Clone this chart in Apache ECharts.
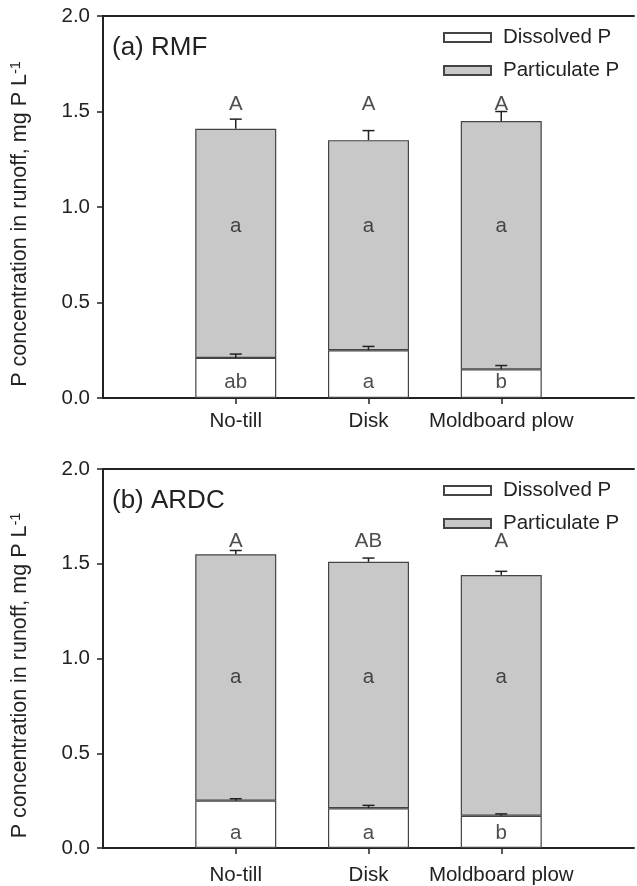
<!DOCTYPE html>
<html><head><meta charset="utf-8">
<script src="https://cdn.jsdelivr.net/npm/echarts@6/dist/echarts.min.js"></script>
<style>html,body{margin:0;padding:0;background:#fff}#c{width:637px;height:886px}</style>
</head><body><div id="c"></div>
<script>
// ---------- data ----------
const categories = ['No-till', 'Disk', 'Moldboard plow'];
const yTickLabels = ['0.0', '0.5', '1.0', '1.5', '2.0'];
const panelTitles = ['(a) RMF', '(b) ARDC'];
const legendNames = ['Dissolved P', 'Particulate P'];

// Panel (a) RMF
const dissolvedA = [0.21, 0.25, 0.15];
const dissolvedErrA = [0.02, 0.02, 0.02];
const particulateA = [1.20, 1.10, 1.30];
const totalErrA = [0.05, 0.05, 0.05];
const upperLettersA = ['A', 'A', 'A'];
const middleLettersA = ['a', 'a', 'a'];
const lowerLettersA = ['ab', 'a', 'b'];

// Panel (b) ARDC
const dissolvedB = [0.25, 0.21, 0.17];
const dissolvedErrB = [0.01, 0.015, 0.01];
const particulateB = [1.30, 1.30, 1.27];
const totalErrB = [0.02, 0.02, 0.02];
const upperLettersB = ['A', 'AB', 'A'];
const middleLettersB = ['a', 'a', 'a'];
const lowerLettersB = ['a', 'a', 'b'];

// ---------- layout ----------
const FONT = "'Liberation Sans', Arial, Helvetica, sans-serif";
const FS = 20.5;
const TXT = '#222';
const panels = [
  { top: 16, height: 382, xMargin: 13, dis: dissolvedA, disErr: dissolvedErrA, par: particulateA, totErr: totalErrA,
    letters: [upperLettersA, middleLettersA, lowerLettersA], letterY: [1.54, 0.90, 0.08] },
  { top: 469, height: 381, xMargin: 17, dis: dissolvedB, disErr: dissolvedErrB, par: particulateB, totErr: totalErrB,
    letters: [upperLettersB, middleLettersB, lowerLettersB], letterY: [1.62, 0.90, 0.075] }
];
const axisCats = [''].concat(categories, ['']);
const pad = arr => ['-'].concat(arr, ['-']);

const grids = [], xAxes = [], yAxes = [], series = [], legends = [], titles = [];

function errRender(params, api) {
  const x = api.value(0);
  const b = api.coord([x, api.value(1)]);
  const t = api.coord([x, api.value(2)]);
  const hw = 6;
  return { type: 'group', children: [
    { type: 'line', shape: { x1: b[0], y1: b[1], x2: t[0], y2: t[1] }, style: { stroke: TXT, lineWidth: 1.5 } },
    { type: 'line', shape: { x1: b[0] - hw, y1: t[1], x2: b[0] + hw, y2: t[1] }, style: { stroke: TXT, lineWidth: 1.5 } }
  ]};
}

panels.forEach((p, i) => {
  grids.push({ left: 98, top: p.top, height: p.height, width: 544 });
  xAxes.push({
    type: 'category', gridIndex: i, data: axisCats, boundaryGap: false, position: 'bottom',
    axisLine: { lineStyle: { color: TXT, width: 2 } },
    axisTick: { show: true, length: 6, lineStyle: { color: TXT, width: 1.5 }, interval: (idx, v) => v !== '' },
    axisLabel: { interval: 0, color: TXT, fontSize: FS, fontFamily: FONT, margin: p.xMargin },
    splitLine: { show: false }
  });
  xAxes.push({
    type: 'category', gridIndex: i, data: axisCats, boundaryGap: false, position: 'top',
    axisLine: { lineStyle: { color: TXT, width: 2 } },
    axisTick: { show: false }, axisLabel: { show: false }, splitLine: { show: false }
  });
  yAxes.push({
    type: 'value', gridIndex: i, min: 0, max: 2, interval: 0.5,
    axisLine: { show: true, lineStyle: { color: TXT, width: 2 } },
    axisTick: { show: true, length: 6, lineStyle: { color: TXT, width: 1.5 } },
    axisLabel: { color: TXT, fontSize: FS, fontFamily: FONT, margin: 13,
      formatter: (v) => yTickLabels[Math.round(v / 0.5)] },
    splitLine: { show: false },
    name: 'P concentration in runoff, mg P L{sup|-1}',
    nameLocation: 'middle', nameGap: 70,
    nameTextStyle: { color: TXT, fontSize: 21.5, fontFamily: FONT, padding: [0, 34, 0, 0],
      rich: { sup: { fontSize: 14.5, fontFamily: FONT, color: TXT, padding: [0, 0, 10, 0] } } }
  });
  const xi = i * 2;
  series.push({
    name: legendNames[0], type: 'bar', stack: 's' + i, xAxisIndex: xi, yAxisIndex: i,
    data: pad(p.dis), barWidth: 81,
    itemStyle: { color: '#ffffff', borderColor: '#444', borderWidth: 1.2 }
  });
  series.push({
    name: legendNames[1], type: 'bar', stack: 's' + i, xAxisIndex: xi, yAxisIndex: i,
    data: pad(p.par), barWidth: 81,
    itemStyle: { color: '#c8c8c8', borderColor: '#444', borderWidth: 1.2 }
  });
  const errData = [];
  p.dis.forEach((d, k) => {
    errData.push([k + 1, d, d + p.disErr[k]]);
    const tot = d + p.par[k];
    errData.push([k + 1, tot, tot + p.totErr[k]]);
  });
  series.push({
    type: 'custom', xAxisIndex: xi, yAxisIndex: i, renderItem: errRender, data: errData, z: 5,
    encode: { x: 0, y: [1, 2] }
  });
  p.letters.forEach((arr, li) => {
    series.push({
      type: 'scatter', xAxisIndex: xi, yAxisIndex: i, symbolSize: 1, z: 6,
      itemStyle: { color: 'rgba(0,0,0,0)' },
      data: arr.map((s, k) => [k + 1, p.letterY[li]]),
      label: { show: true, position: 'inside', color: TXT, fontSize: FS, fontFamily: FONT,
        formatter: (prm) => arr[prm.dataIndex] }
    });
  });
  legends.push({
    data: legendNames, orient: 'vertical', left: 443, top: p.top + 11, itemGap: 12, padding: 0,
    icon: 'rect', itemWidth: 47, itemHeight: 9, selectedMode: false,
    textStyle: { color: TXT, fontSize: FS, fontFamily: FONT, padding: [0, 0, 0, 7] }
  });
  titles.push({
    text: panelTitles[i], left: 112, top: p.top + 19, padding: 0,
    textStyle: { color: TXT, fontSize: 26, fontWeight: 'normal', fontFamily: FONT }
  });
});

const chart = echarts.init(document.getElementById('c'), null, { renderer: 'canvas' });
chart.setOption({
  animation: false, backgroundColor: '#fff',
  title: titles, legend: legends, grid: grids, xAxis: xAxes, yAxis: yAxes, series: series
});
</script></body></html>
